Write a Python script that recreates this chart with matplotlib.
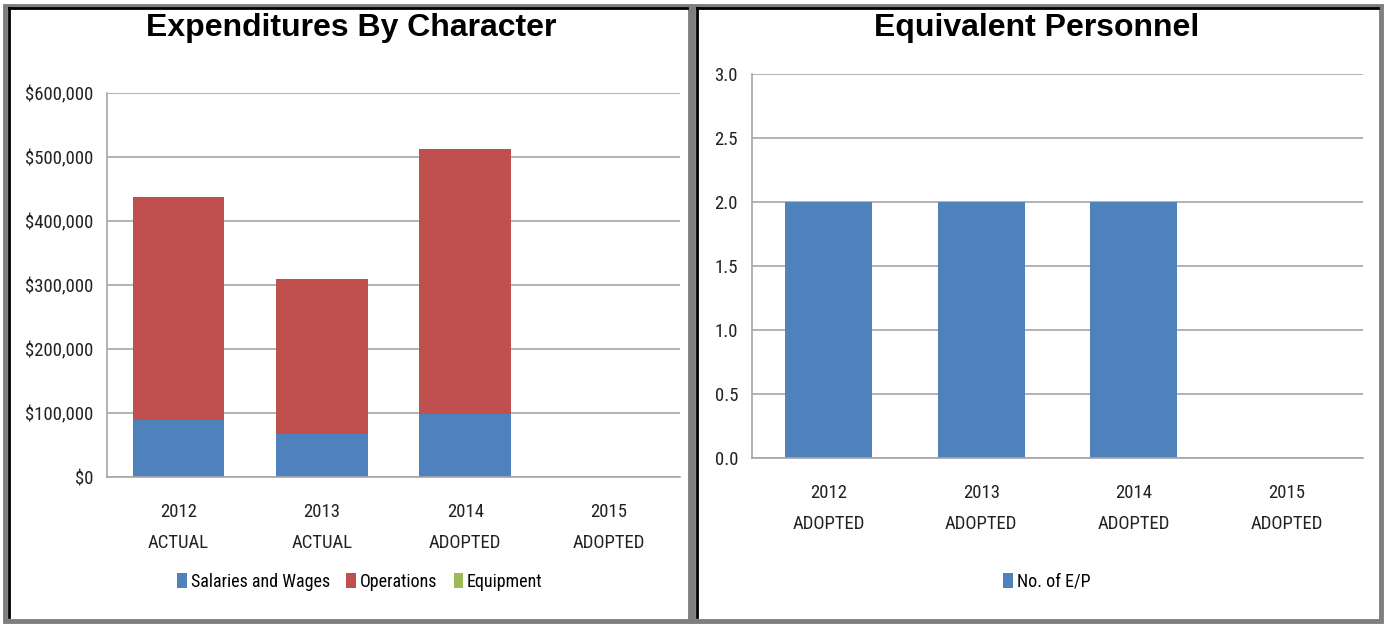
import matplotlib.pyplot as plt
from matplotlib.patches import Rectangle
from matplotlib.lines import Line2D
from matplotlib.ticker import FuncFormatter
import numpy as np

plt.rcParams['font.family'] = ['Liberation Sans Narrow', 'Roboto Condensed', 'Liberation Sans', 'DejaVu Sans']

# data
exp_labels = ['2012\nACTUAL', '2013\nACTUAL', '2014\nADOPTED', '2015\nADOPTED']
salaries = [89000, 67000, 98000, 0]
operations = [348000, 242000, 414000, 0]
equipment = [0, 0, 0, 0]

ep_labels = ['2012\nADOPTED', '2013\nADOPTED', '2014\nADOPTED', '2015\nADOPTED']
ep_values = [2.0, 2.0, 2.0, 0.0]

blue = '#4F81BD'
red = '#C0504D'
green = '#9BBB59'
grid_c = '#A6A6A6'

W, H = 1385, 625
fig = plt.figure(figsize=(W / 100, H / 100), dpi=100)


def fx(px):
    return px / W


def fy(py):
    return 1 - py / H


# panel frames (beveled look)
for x0, x1 in [(5, 690), (693, 1381)]:
    fig.add_artist(Rectangle((fx(x0), fy(621)), fx(x1 - x0), (621 - 6) / H,
                             fill=False, edgecolor='#7F7F7F', linewidth=3.5,
                             transform=fig.transFigure))
    fig.add_artist(Line2D([fx(x0 + 4), fx(x0 + 4)], [fy(617), fy(8)],
                          color='black', linewidth=2, transform=fig.transFigure))
    fig.add_artist(Line2D([fx(x0 + 4), fx(x1 - 3)], [fy(8), fy(8)],
                          color='black', linewidth=2, transform=fig.transFigure))


def style_axis(ax):
    for s in ['top', 'right']:
        ax.spines[s].set_visible(False)
    ax.spines['left'].set_color(grid_c)
    ax.spines['bottom'].set_color(grid_c)
    ax.spines['left'].set_linewidth(1.2)
    ax.spines['bottom'].set_linewidth(1.2)
    ax.yaxis.grid(True, color=grid_c, linewidth=1.2)
    ax.set_axisbelow(True)
    ax.tick_params(axis='y', length=0, labelsize=13.5, pad=10, labelcolor='#222222')
    ax.tick_params(axis='x', length=0, labelsize=13.5, pad=19, labelcolor='#222222')


# left chart
ax1 = fig.add_axes([fx(107), fy(477), fx(680 - 107), (477 - 93) / H])
x = np.arange(len(exp_labels))
bw = 0.64
ax1.bar(x, salaries, bw, color=blue, label='Salaries and Wages')
ax1.bar(x, operations, bw, bottom=salaries, color=red, label='Operations')
bottom2 = np.array(salaries) + np.array(operations)
ax1.bar(x, equipment, bw, bottom=bottom2, color=green, label='Equipment')
ax1.set_xlim(-0.5, 3.5)
ax1.set_ylim(0, 600000)
ax1.set_yticks(np.arange(0, 600001, 100000))
ax1.yaxis.set_major_formatter(FuncFormatter(lambda v, p: '${:,.0f}'.format(v)))
ax1.set_xticks(x)
ax1.set_xticklabels(exp_labels, linespacing=1.9)
style_axis(ax1)
ax1.legend(loc='center', bbox_to_anchor=((360 - 107) / 573, (477 - 582) / 384), ncol=3,
           frameon=False, fontsize=13, handlelength=0.55, handleheight=0.9,
           handletextpad=0.2, columnspacing=0.9)
fig.text(fx(351), fy(28), 'Expenditures By Character', ha='center', va='center',
         fontsize=23, fontweight='bold', family='Liberation Sans')

# right chart
ax2 = fig.add_axes([fx(752), fy(458), fx(1363 - 752), (458 - 74) / H])
x2 = np.arange(len(ep_labels))
ax2.bar(x2, ep_values, 0.57, color=blue, label='No. of E/P')
ax2.set_xlim(-0.5, 3.5)
ax2.set_ylim(0, 3.0)
ax2.set_yticks(np.arange(0, 3.01, 0.5))
ax2.yaxis.set_major_formatter(FuncFormatter(lambda v, p: '{:.1f}'.format(v)))
ax2.set_xticks(x2)
ax2.set_xticklabels(ep_labels, linespacing=1.9)
style_axis(ax2)
ax2.legend(loc='center', bbox_to_anchor=((1047 - 752) / 611, (458 - 582) / 384), ncol=1,
           frameon=False, fontsize=13, handlelength=0.55, handleheight=0.9,
           handletextpad=0.2)
fig.text(fx(1037), fy(28), 'Equivalent Personnel', ha='center', va='center',
         fontsize=23, fontweight='bold', family='Liberation Sans')

fig.savefig('out.png', dpi=100)
